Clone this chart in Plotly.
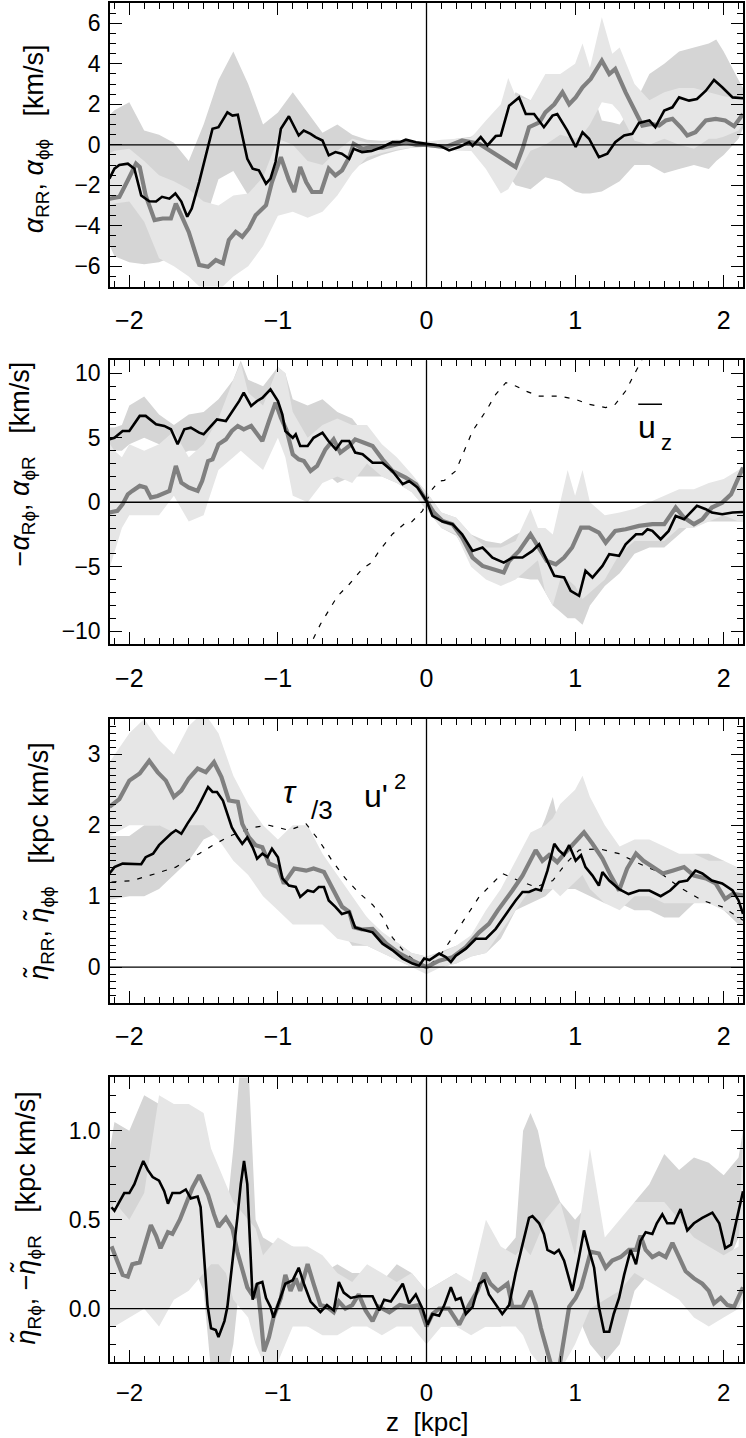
import plotly.graph_objects as go

# ---------------- data ----------------
# Panel 1: alpha_RR (black), alpha_phiphi (gray)
p1_black = [(-2.134,-1.67),(-2.10,-1.18),(-2.067,-1.0),(-2.01,-0.93),(-1.966,-1.18),(-1.92,-2.5),(-1.866,-2.79),(-1.82,-2.8),(-1.78,-2.57),(-1.73,-2.66),(-1.69,-2.4),(-1.65,-2.8),(-1.61,-3.55),(-1.58,-3.15),(-1.53,-1.84),(-1.47,0.0),(-1.44,0.79),(-1.40,0.87),(-1.38,1.11),(-1.34,1.6),(-1.306,1.44),(-1.27,1.48),(-1.24,0.46),(-1.206,-0.69),(-1.17,-1.18),(-1.128,-1.26),(-1.08,-1.92),(-1.05,-1.67),(-1.016,-0.85),(-0.98,0.79),(-0.926,1.41),(-0.88,0.79),(-0.86,0.46),(-0.826,0.70),(-0.78,0.54),(-0.747,0.38),(-0.70,0.21),(-0.658,-0.52),(-0.613,-0.36),(-0.57,-0.44),(-0.52,-0.69),(-0.49,-0.2),(-0.434,-0.36),(-0.37,-0.3),(-0.296,-0.11),(-0.229,0.13),(-0.18,0.13),(-0.139,0.25),(-0.07,0.13),(0.0,0.05),(0.085,-0.03),(0.152,-0.28),(0.22,-0.11),(0.287,0.13),(0.31,-0.05),(0.365,0.38),(0.41,-0.03),(0.466,0.43),(0.50,0.46),(0.556,1.93),(0.623,2.34),(0.668,1.52),(0.724,1.52),(0.79,0.87),(0.848,1.44),(0.88,1.52),(0.948,0.70),(1.004,-0.11),(1.05,0.62),(1.094,0.30),(1.16,-0.61),(1.217,-0.44),(1.27,0.13),(1.33,0.46),(1.385,0.54),(1.43,1.08),(1.50,1.20),(1.54,0.87),(1.60,1.69),(1.655,1.85),(1.70,2.34),(1.767,2.18),(1.82,2.26),(1.88,2.67),(1.935,3.2),(1.99,2.84),(2.06,2.34),(2.13,2.3)]
p1_gray = [(-2.134,-2.66),(-2.067,-2.57),(-2.01,-1.75),(-1.955,-0.93),(-1.93,-1.1),(-1.89,-2.5),(-1.83,-3.72),(-1.776,-3.64),(-1.72,-3.64),(-1.687,-2.9),(-1.65,-3.48),(-1.60,-4.3),(-1.53,-5.93),(-1.47,-6.02),(-1.418,-5.69),(-1.37,-5.85),(-1.33,-4.7),(-1.284,-4.3),(-1.24,-4.54),(-1.195,-4.13),(-1.15,-3.48),(-1.08,-2.98),(-1.04,-1.84),(-0.98,-0.61),(-0.926,-1.75),(-0.89,-2.33),(-0.85,-1.10),(-0.81,-1.84),(-0.77,-2.33),(-0.71,-2.33),(-0.658,-1.18),(-0.613,-1.51),(-0.568,-1.26),(-0.52,-0.61),(-0.49,0.05),(-0.43,-0.2),(-0.37,-0.11),(-0.30,-0.15),(-0.23,-0.03),(-0.14,0.13),(-0.07,0.0),(0.0,0.0),(0.13,-0.11),(0.24,0.21),(0.354,0.05),(0.466,-0.44),(0.53,-0.77),(0.60,-1.1),(0.646,-0.2),(0.69,0.87),(0.76,1.11),(0.80,1.6),(0.86,2.0),(0.915,2.59),(0.96,2.0),(1.004,2.34),(1.05,2.84),(1.105,3.25),(1.18,4.15),(1.23,3.49),(1.27,3.74),(1.34,2.59),(1.41,1.52),(1.453,0.95),(1.51,1.03),(1.565,0.95),(1.61,1.2),(1.655,1.28),(1.71,0.87),(1.755,0.46),(1.81,0.62),(1.88,1.2),(1.946,1.28),(2.01,1.2),(2.07,0.92),(2.13,1.52)]
# bands: (z, dark_lo, dark_hi, light_lo, light_hi)
p1_bands = [(-2.13,-5.0,1.5,-3.0,-0.4),(-2.1,-5.5,1.7,-2.9,-0.3),(-2.0,-5.8,2.1,-2.8,-0.2),(-1.9,-5.9,0.7,-3.8,-0.8),(-1.8,-5.8,0.5,-5.6,-1.5),(-1.7,-5.5,0.1,-6.0,-1.8),(-1.6,-5.5,-0.8,-6.5,-2.2),(-1.5,-4.0,1.0,-7.2,-2.8),(-1.4,-1.7,3.2,-7.2,-3.0),(-1.3,-1.3,4.6,-6.5,-2.5),(-1.2,-2.5,3.0,-6.0,-2.4),(-1.1,-3.0,1.0,-5.0,-1.6),(-1.0,-3.2,1.6,-3.5,0.3),(-0.9,-1.5,2.6,-3.3,0.0),(-0.8,-1.5,1.6,-3.6,-0.8),(-0.7,-1.2,0.6,-3.3,-1.0),(-0.6,-1.5,1.0,-2.5,-0.3),(-0.5,-1.2,0.5,-1.4,0.3),(-0.4,-0.8,0.25,-0.6,0.1),(-0.3,-0.5,0.2,-0.4,0.1),(-0.2,-0.3,0.25,-0.25,0.25),(-0.1,-0.15,0.2,-0.15,0.2),(0.0,-0.1,0.15,-0.1,0.15),(0.1,-0.2,0.15,-0.2,0.25),(0.2,-0.25,0.3,-0.3,0.3),(0.3,-0.3,0.4,-0.3,0.35),(0.4,-0.3,0.9,-1.2,1.2),(0.5,-0.9,1.6,-2.4,2.0),(0.55,-1.5,2.0,-2.2,3.3),(0.6,-2.0,2.6,-1.6,2.4),(0.7,-2.2,2.2,-0.3,2.2),(0.8,-1.6,2.0,0.0,3.5),(0.9,-1.8,1.8,0.5,3.5),(1.0,-2.3,1.2,0.3,4.0),(1.05,-2.4,2.5,0.5,5.0),(1.1,-2.4,3.0,1.0,3.8),(1.18,-2.3,1.2,2.1,6.3),(1.25,-2.0,1.1,2.0,4.5),(1.3,-1.8,1.0,1.6,4.8),(1.4,-1.0,2.0,0.2,3.0),(1.5,-1.0,3.5,0.0,2.2),(1.6,-1.4,4.0,0.3,2.6),(1.7,-1.2,4.6,0.0,2.8),(1.8,-1.0,4.8,-0.2,2.8),(1.9,-1.2,5.0,0.3,2.6),(1.95,-0.8,5.2,0.3,2.5),(2.0,-0.5,4.6,0.4,2.4),(2.1,0.3,3.2,0.7,2.3),(2.13,0.8,2.8,1.0,2.2)]

# Panel 2: -alpha_Rphi (black), alpha_phiR (gray), mean u_z (dashed)
p2_black = [(-2.134,4.88),(-2.10,5.0),(-2.045,5.53),(-2.0,5.53),(-1.93,6.7),(-1.89,6.7),(-1.82,6.05),(-1.765,5.92),(-1.72,5.66),(-1.675,4.5),(-1.63,5.66),(-1.586,5.79),(-1.53,5.4),(-1.50,5.27),(-1.46,5.79),(-1.41,6.43),(-1.35,6.3),(-1.31,6.95),(-1.26,7.86),(-1.23,8.5),(-1.18,7.47),(-1.14,7.86),(-1.105,8.1),(-1.05,8.76),(-1.0,7.86),(-0.97,6.8),(-0.95,5.53),(-0.90,5.0),(-0.88,5.27),(-0.85,4.37),(-0.80,4.37),(-0.76,5.0),(-0.70,5.4),(-0.66,4.75),(-0.61,4.1),(-0.57,4.75),(-0.52,4.75),(-0.48,3.85),(-0.43,3.72),(-0.363,3.07),(-0.296,3.07),(-0.23,2.43),(-0.16,1.4),(-0.117,1.65),(-0.06,1.14),(0.0,0.1),(0.04,-1.06),(0.108,-1.5),(0.175,-1.7),(0.24,-2.48),(0.31,-3.77),(0.377,-3.51),(0.444,-4.29),(0.52,-4.68),(0.58,-4.29),(0.646,-4.29),(0.713,-3.77),(0.758,-3.26),(0.80,-4.29),(0.86,-5.71),(0.926,-5.84),(0.97,-6.87),(1.027,-7.26),(1.07,-5.32),(1.117,-5.84),(1.184,-4.94),(1.23,-4.03),(1.296,-4.16),(1.34,-3.26),(1.41,-2.48),(1.453,-2.48),(1.487,-2.09),(1.52,-2.22),(1.576,-2.87),(1.63,-2.22),(1.677,-1.06),(1.733,-1.32),(1.82,-0.28),(1.88,-0.54),(1.92,-0.8),(1.99,-0.93),(2.06,-0.8),(2.13,-0.75)]
p2_gray = [(-2.134,-0.8),(-2.08,-0.67),(-2.045,-0.15),(-2.01,0.62),(-1.98,0.88),(-1.93,1.27),(-1.89,1.14),(-1.855,0.36),(-1.81,0.49),(-1.776,0.62),(-1.73,0.88),(-1.687,2.82),(-1.65,1.52),(-1.60,1.14),(-1.54,0.88),(-1.51,1.65),(-1.47,3.2),(-1.44,3.33),(-1.40,4.5),(-1.35,4.88),(-1.31,5.53),(-1.27,5.92),(-1.23,5.66),(-1.18,5.92),(-1.14,5.27),(-1.105,4.75),(-1.06,6.3),(-1.016,7.73),(-0.98,6.56),(-0.94,5.53),(-0.90,3.72),(-0.86,3.33),(-0.825,3.2),(-0.78,2.43),(-0.736,2.82),(-0.68,4.1),(-0.625,4.88),(-0.58,3.85),(-0.52,4.37),(-0.48,4.88),(-0.42,4.62),(-0.363,4.37),(-0.296,3.33),(-0.23,2.43),(-0.14,1.91),(-0.07,1.4),(0.0,0.1),(0.05,-0.8),(0.108,-1.45),(0.175,-1.7),(0.24,-2.74),(0.31,-4.29),(0.377,-4.94),(0.444,-5.19),(0.52,-5.45),(0.556,-4.55),(0.623,-3.77),(0.70,-2.48),(0.758,-3.51),(0.81,-4.55),(0.87,-4.81),(0.926,-4.29),(0.98,-3.51),(1.04,-1.96),(1.094,-1.96),(1.16,-2.35),(1.206,-3.13),(1.27,-2.22),(1.34,-2.09),(1.43,-1.83),(1.52,-1.7),(1.60,-1.7),(1.677,-0.41),(1.733,-1.19),(1.80,-1.7),(1.856,-1.32),(1.92,-0.41),(1.99,-0.03),(2.05,0.62),(2.13,2.69)]
p2_uz = [(-0.80,-11.5),(-0.714,-9.46),(-0.60,-7.3),(-0.52,-6.36),(-0.434,-5.19),(-0.37,-4.68),(-0.318,-3.77),(-0.23,-2.48),(-0.14,-1.58),(-0.105,-1.58),(-0.027,-0.67),(0.03,0.88),(0.085,1.65),(0.12,1.7),(0.197,2.43),(0.31,5.53),(0.40,7.08),(0.466,8.37),(0.534,9.28),(0.60,9.02),(0.668,8.63),(0.758,8.24),(0.89,8.24),(1.004,7.98),(1.094,7.6),(1.206,7.34),(1.27,7.6),(1.34,8.63),(1.41,10.18),(1.47,11.5)]
p2_bands = [(-2.13,3.8,5.8,-5.0,4.5),(-2.1,4.0,5.8,-4.0,4.0),(-2.05,4.0,6.0,-2.0,3.5),(-2.0,4.5,7.5,-1.0,4.5),(-1.9,5.0,8.2,-1.0,4.0),(-1.8,4.5,6.8,-1.0,4.5),(-1.7,3.5,6.0,0.5,5.5),(-1.6,4.0,6.8,-1.5,3.5),(-1.5,4.0,7.0,-1.0,4.5),(-1.4,5.0,8.0,2.5,6.5),(-1.3,5.5,9.5,3.5,9.5),(-1.25,6.5,11.0,4.0,10.8),(-1.2,6.0,9.5,3.5,8.5),(-1.1,6.5,9.0,2.5,7.5),(-1.0,6.5,10.5,5.0,10.5),(-0.95,5.0,10.0,3.5,10.0),(-0.9,3.0,8.0,0.5,7.0),(-0.8,2.0,7.5,0.0,5.0),(-0.7,2.5,8.0,1.5,6.0),(-0.6,1.5,7.0,2.0,6.5),(-0.5,2.0,6.5,1.5,6.0),(-0.4,2.0,5.0,3.0,6.0),(-0.3,2.0,4.0,2.0,4.5),(-0.2,1.5,3.0,1.5,3.5),(-0.1,0.8,2.0,0.8,2.2),(0.0,-0.5,0.8,-0.6,0.8),(0.1,-2.0,-0.8,-2.0,-0.8),(0.2,-2.6,-1.2,-2.5,-1.2),(0.3,-4.5,-2.5,-5.0,-2.5),(0.4,-5.5,-3.0,-6.0,-3.5),(0.5,-6.0,-3.2,-6.5,-3.5),(0.6,-5.8,-2.5,-6.0,-3.0),(0.7,-6.0,-2.0,-5.0,-0.5),(0.75,-6.0,-2.5,-4.5,-2.0),(0.8,-7.0,-3.0,-7.0,-2.0),(0.85,-8.0,-3.5,-8.0,-2.5),(0.9,-8.5,-4.0,-6.0,0.0),(0.95,-9.0,-4.2,-6.0,2.5),(1.0,-9.0,-4.5,-6.5,0.5),(1.05,-9.5,-3.5,-7.5,2.5),(1.1,-8.0,-4.0,-7.0,0.0),(1.2,-6.5,-2.5,-6.0,-1.0),(1.3,-5.5,-2.0,-4.0,-0.8),(1.4,-4.0,-1.5,-3.0,-0.5),(1.5,-3.5,-0.5,-3.0,0.0),(1.6,-3.5,0.0,-3.0,0.5),(1.7,-2.5,0.5,-2.0,1.0),(1.8,-1.5,0.8,-2.0,1.0),(1.9,-1.5,0.5,-1.5,1.5),(2.0,-1.5,0.5,-1.0,1.8),(2.1,-1.5,0.5,-1.5,2.5),(2.13,-1.5,0.5,-1.5,2.8)]

# Panel 3: eta_RR (black), eta_phiphi (gray), tau/3 u'^2 (dashed)
p3_black = [(-2.134,1.32),(-2.10,1.41),(-2.045,1.46),(-2.0,1.46),(-1.92,1.45),(-1.89,1.55),(-1.84,1.60),(-1.80,1.72),(-1.754,1.81),(-1.72,1.88),(-1.687,1.93),(-1.65,1.88),(-1.61,2.02),(-1.55,2.21),(-1.52,2.33),(-1.47,2.54),(-1.44,2.47),(-1.41,2.47),(-1.37,2.35),(-1.34,2.16),(-1.31,1.97),(-1.27,1.83),(-1.24,1.74),(-1.206,1.83),(-1.17,1.69),(-1.14,1.53),(-1.105,1.60),(-1.07,1.55),(-1.04,1.67),(-1.0,1.55),(-0.97,1.25),(-0.926,1.15),(-0.88,1.13),(-0.85,0.99),(-0.80,1.08),(-0.76,1.06),(-0.725,1.13),(-0.69,1.13),(-0.658,0.94),(-0.613,0.85),(-0.57,0.75),(-0.52,0.78),(-0.48,0.56),(-0.434,0.53),(-0.363,0.49),(-0.296,0.33),(-0.23,0.24),(-0.16,0.12),(-0.094,0.05),(-0.05,0.02),(-0.016,0.12),(0.02,0.10),(0.085,0.19),(0.13,0.14),(0.164,0.07),(0.197,0.16),(0.265,0.26),(0.332,0.40),(0.40,0.40),(0.466,0.54),(0.534,0.75),(0.60,0.94),(0.646,1.06),(0.69,1.06),(0.735,1.10),(0.77,1.08),(0.814,1.36),(0.86,1.74),(0.89,1.65),(0.926,1.58),(0.96,1.72),(1.004,1.50),(1.04,1.58),(1.07,1.41),(1.117,1.29),(1.16,1.15),(1.184,1.34),(1.23,1.22),(1.296,1.10),(1.36,1.03),(1.43,1.08),(1.50,1.08),(1.576,1.0),(1.64,1.08),(1.70,1.20),(1.755,1.22),(1.81,1.36),(1.856,1.32),(1.92,1.22),(1.99,1.18),(2.06,1.08),(2.10,0.94),(2.13,0.75)]
p3_gray = [(-2.134,2.26),(-2.067,2.37),(-2.0,2.63),(-1.93,2.73),(-1.866,2.91),(-1.81,2.75),(-1.754,2.63),(-1.70,2.40),(-1.65,2.49),(-1.60,2.66),(-1.54,2.80),(-1.485,2.75),(-1.43,2.89),(-1.38,2.68),(-1.33,2.35),(-1.27,2.33),(-1.24,2.02),(-1.195,1.83),(-1.15,1.72),(-1.105,1.69),(-1.06,1.46),(-1.0,1.41),(-0.96,1.18),(-0.89,1.39),(-0.81,1.36),(-0.76,1.39),(-0.69,1.34),(-0.635,1.13),(-0.568,0.85),(-0.52,0.78),(-0.49,0.56),(-0.434,0.53),(-0.363,0.54),(-0.27,0.33),(-0.18,0.19),(-0.094,0.09),(0.0,0.0),(0.085,0.09),(0.175,0.14),(0.265,0.28),(0.354,0.49),(0.42,0.61),(0.48,0.80),(0.578,1.08),(0.646,1.29),(0.735,1.65),(0.78,1.50),(0.825,1.58),(0.88,1.48),(0.937,1.62),(0.99,1.74),(1.06,1.90),(1.117,1.74),(1.184,1.53),(1.24,1.29),(1.296,1.08),(1.35,1.39),(1.41,1.60),(1.46,1.50),(1.52,1.41),(1.59,1.32),(1.655,1.36),(1.733,1.41),(1.80,1.29),(1.88,1.25),(1.946,1.18),(2.01,0.96),(2.06,1.03),(2.13,1.01)]
p3_tau = [(-2.12,1.20),(-1.98,1.22),(-1.82,1.32),(-1.687,1.41),(-1.53,1.60),(-1.42,1.74),(-1.31,1.86),(-1.17,1.97),(-1.06,2.0),(-0.926,1.93),(-0.81,2.02),(-0.725,1.79),(-0.635,1.5),(-0.546,1.25),(-0.456,1.05),(-0.363,0.88),(-0.296,0.71),(-0.23,0.42),(-0.14,0.19),(-0.05,0.05),(0.0,0.0),(0.085,0.14),(0.175,0.42),(0.265,0.71),(0.354,0.99),(0.42,1.13),(0.51,1.32),(0.62,1.22),(0.735,1.13),(0.85,1.22),(0.937,1.46),(1.027,1.65),(1.16,1.67),(1.296,1.60),(1.43,1.46),(1.565,1.34),(1.70,1.13),(1.856,0.94),(1.99,0.85),(2.13,0.66)]
p3_bands = [(-2.13,0.95,1.85,1.85,2.9),(-2.0,1.0,1.85,2.0,3.3),(-1.9,1.0,2.0,2.0,3.5),(-1.8,1.1,2.0,2.0,3.2),(-1.7,1.3,2.1,1.9,3.0),(-1.6,1.5,2.2,2.0,3.4),(-1.5,1.8,2.4,2.0,3.6),(-1.4,1.9,2.3,1.8,3.3),(-1.3,1.6,2.0,1.5,2.7),(-1.2,1.4,1.9,1.3,2.3),(-1.1,1.2,1.8,1.0,2.0),(-1.0,1.0,1.7,0.8,1.8),(-0.9,0.8,1.4,0.6,2.0),(-0.8,0.7,1.3,0.6,2.0),(-0.7,0.7,1.3,0.6,1.6),(-0.6,0.6,1.1,0.4,1.3),(-0.5,0.3,0.9,0.35,1.0),(-0.4,0.3,0.7,0.3,0.7),(-0.3,0.2,0.45,0.2,0.5),(-0.2,0.1,0.35,0.1,0.35),(-0.1,0.0,0.2,0.0,0.2),(0.0,-0.05,0.15,-0.1,0.15),(0.1,0.0,0.22,0.0,0.2),(0.2,0.05,0.3,0.05,0.3),(0.3,0.15,0.4,0.15,0.45),(0.4,0.2,0.6,0.2,0.8),(0.5,0.4,0.9,0.5,1.1),(0.6,0.8,1.3,0.8,1.5),(0.7,0.9,1.6,1.1,1.9),(0.8,1.0,2.1,1.1,2.0),(0.85,1.1,2.4,1.1,2.1),(0.9,1.1,1.9,1.0,2.3),(1.0,1.1,1.8,1.2,2.5),(1.05,1.05,1.7,1.3,2.7),(1.1,1.0,1.6,1.1,2.4),(1.2,0.9,1.5,0.9,2.0),(1.3,0.9,1.4,0.8,1.7),(1.4,0.8,1.5,1.0,1.8),(1.5,0.8,1.5,1.0,1.8),(1.6,0.7,1.4,0.9,1.7),(1.7,0.7,1.5,0.9,1.6),(1.8,0.9,1.6,0.9,1.6),(1.9,1.0,1.6,0.9,1.5),(2.0,0.8,1.5,0.8,1.5),(2.1,0.6,1.3,0.7,1.4),(2.13,0.6,1.2,0.6,1.4)]

# Panel 4: eta_Rphi (black), -eta_phiR (gray)
p4_black = [(-2.12,0.57),(-2.10,0.55),(-2.067,0.60),(-2.034,0.65),(-2.0,0.65),(-1.966,0.70),(-1.93,0.78),(-1.906,0.83),(-1.876,0.78),(-1.843,0.74),(-1.80,0.72),(-1.765,0.66),(-1.74,0.59),(-1.71,0.65),(-1.66,0.65),(-1.62,0.67),(-1.586,0.62),(-1.54,0.63),(-1.52,0.57),(-1.50,0.33),(-1.474,0.02),(-1.45,-0.11),(-1.418,-0.12),(-1.40,-0.16),(-1.36,-0.07),(-1.34,0.01),(-1.306,0.25),(-1.273,0.51),(-1.25,0.70),(-1.228,0.83),(-1.206,0.70),(-1.183,0.25),(-1.17,0.05),(-1.14,0.14),(-1.105,0.15),(-1.08,0.06),(-1.05,0.01),(-1.03,-0.05),(-0.99,0.04),(-0.95,0.14),(-0.90,0.16),(-0.86,0.23),(-0.825,0.14),(-0.78,0.04),(-0.747,0.01),(-0.714,-0.02),(-0.67,0.02),(-0.624,-0.01),(-0.59,0.15),(-0.557,0.09),(-0.51,0.06),(-0.456,0.07),(-0.41,0.07),(-0.363,0.07),(-0.318,-0.01),(-0.285,0.05),(-0.24,0.04),(-0.16,0.14),(-0.117,0.03),(-0.072,0.08),(-0.027,0.0),(0.007,-0.09),(0.04,-0.03),(0.085,-0.04),(0.12,0.02),(0.164,0.12),(0.197,0.05),(0.23,0.06),(0.265,-0.03),(0.31,0.01),(0.354,0.14),(0.39,0.16),(0.42,0.08),(0.466,0.02),(0.51,-0.03),(0.556,0.02),(0.60,0.20),(0.646,0.36),(0.69,0.51),(0.713,0.52),(0.758,0.48),(0.79,0.42),(0.814,0.33),(0.86,0.31),(0.89,0.33),(0.926,0.27),(0.96,0.16),(0.982,0.10),(1.027,0.29),(1.06,0.44),(1.094,0.33),(1.128,0.23),(1.16,0.01),(1.195,-0.13),(1.23,-0.13),(1.26,-0.03),(1.296,0.06),(1.33,0.19),(1.374,0.33),(1.41,0.25),(1.44,0.38),(1.475,0.43),(1.52,0.42),(1.55,0.48),(1.587,0.53),(1.62,0.48),(1.666,0.48),(1.71,0.56),(1.755,0.44),(1.80,0.48),(1.856,0.51),(1.924,0.54),(1.97,0.48),(2.01,0.34),(2.05,0.36),(2.09,0.51),(2.13,0.66)]
p4_gray = [(-2.12,0.35),(-2.09,0.29),(-2.045,0.19),(-2.01,0.18),(-1.98,0.25),(-1.93,0.26),(-1.89,0.37),(-1.855,0.47),(-1.82,0.41),(-1.79,0.34),(-1.74,0.43),(-1.71,0.42),(-1.66,0.50),(-1.62,0.58),(-1.575,0.68),(-1.53,0.75),(-1.47,0.64),(-1.43,0.53),(-1.40,0.46),(-1.35,0.51),(-1.306,0.45),(-1.273,0.32),(-1.24,0.23),(-1.206,0.12),(-1.16,0.06),(-1.14,0.14),(-1.117,-0.03),(-1.094,-0.24),(-1.06,-0.16),(-1.03,-0.05),(-0.98,0.06),(-0.95,0.19),(-0.915,0.10),(-0.88,0.17),(-0.85,0.10),(-0.80,0.25),(-0.76,0.14),(-0.714,0.02),(-0.67,0.01),(-0.624,-0.02),(-0.59,0.04),(-0.546,0.0),(-0.50,0.02),(-0.456,0.08),(-0.41,-0.01),(-0.363,-0.07),(-0.318,0.01),(-0.25,-0.02),(-0.18,0.02),(-0.117,0.01),(-0.05,0.02),(0.0,-0.10),(0.04,-0.03),(0.085,0.0),(0.15,0.0),(0.22,-0.09),(0.287,0.02),(0.343,0.10),(0.39,0.20),(0.43,0.14),(0.48,0.10),(0.545,0.14),(0.578,0.01),(0.646,0.01),(0.70,0.10),(0.735,0.02),(0.77,-0.11),(0.814,-0.24),(0.85,-0.35),(0.89,-0.35),(0.926,-0.16),(0.96,0.01),(1.004,0.06),(1.04,0.12),(1.07,0.21),(1.105,0.32),(1.16,0.31),(1.206,0.23),(1.25,0.27),(1.307,0.29),(1.363,0.33),(1.41,0.33),(1.44,0.41),(1.475,0.33),(1.52,0.29),(1.565,0.31),(1.61,0.29),(1.655,0.37),(1.70,0.29),(1.744,0.21),(1.80,0.17),(1.856,0.14),(1.90,0.10),(1.935,0.03),(1.98,0.06),(2.025,0.02),(2.07,0.01),(2.13,0.12)]
p4_bands = [(-2.13,0.3,0.9,-0.1,0.55),(-2.1,0.2,1.05,-0.1,0.6),(-2.0,0.1,1.0,-0.05,0.5),(-1.9,0.3,1.2,0.0,0.65),(-1.8,0.35,1.15,-0.1,1.2),(-1.7,0.3,1.0,0.05,1.15),(-1.6,0.3,1.0,0.1,1.15),(-1.5,0.1,0.8,0.2,1.1),(-1.45,-0.35,0.5,0.25,0.9),(-1.4,-0.4,0.4,0.25,0.8),(-1.35,-0.4,0.5,0.2,0.7),(-1.3,-0.2,0.9,0.05,0.6),(-1.25,0.2,1.4,0.0,0.55),(-1.2,0.3,1.4,-0.05,0.5),(-1.15,-0.1,0.5,-0.2,0.45),(-1.1,-0.1,0.4,-0.3,0.3),(-1.0,-0.2,0.35,-0.3,0.4),(-0.9,-0.05,0.35,-0.1,0.35),(-0.8,-0.1,0.3,-0.1,0.35),(-0.7,-0.1,0.2,-0.15,0.3),(-0.6,0.0,0.25,-0.15,0.2),(-0.5,-0.05,0.2,-0.1,0.15),(-0.4,-0.05,0.2,-0.1,0.25),(-0.3,-0.1,0.15,-0.15,0.2),(-0.2,0.0,0.25,-0.1,0.15),(-0.1,-0.05,0.2,-0.1,0.2),(0.0,-0.15,0.1,-0.2,0.1),(0.1,-0.1,0.15,-0.1,0.15),(0.2,-0.1,0.2,-0.1,0.2),(0.3,-0.1,0.1,-0.15,0.15),(0.4,-0.1,0.3,-0.1,0.5),(0.5,-0.1,0.3,-0.1,0.35),(0.6,-0.05,0.4,-0.1,0.3),(0.65,0.0,1.0,-0.15,0.35),(0.7,0.1,1.1,-0.25,0.3),(0.75,0.1,1.0,-0.3,0.4),(0.8,0.05,0.8,-0.35,0.5),(0.9,-0.05,0.6,-0.35,0.6),(1.0,0.0,0.5,-0.2,0.3),(1.1,-0.2,0.6,0.0,0.9),(1.2,-0.3,0.3,0.05,0.4),(1.3,-0.2,0.4,0.1,0.5),(1.4,0.1,0.6,0.2,0.6),(1.5,0.2,0.7,0.15,0.6),(1.6,0.3,0.87,0.1,0.6),(1.7,0.35,0.78,0.05,0.5),(1.8,0.35,0.85,-0.05,0.4),(1.9,0.3,0.82,-0.1,0.35),(2.0,0.2,0.75,-0.05,0.3),(2.1,0.4,0.85,0.0,0.35),(2.13,0.4,1.0,0.05,1.0)]

# axis ranges / ticks
z_range = [-2.13, 2.13]
y_ranges = [[-7, 7], [-11, 11], [-0.5, 3.5], [-0.3, 1.3]]
y_dticks = [2, 5, 1, 0.5]
y_minor = [0.5, 1, 0.1, 0.1]
y_titles = ["<i>α</i><sub>RR</sub>, <i>α</i><sub>ϕϕ</sub>\u00a0\u00a0\u00a0[km/s]",
            "−<i>α</i><sub>Rϕ</sub>, <i>α</i><sub>ϕR</sub>\u00a0\u00a0\u00a0[km/s]",
            "<i>η\u0303</i><sub>RR</sub>, <i>η\u0303</i><sub>ϕϕ</sub>\u00a0\u00a0\u00a0[kpc km/s]",
            "<i>η\u0303</i><sub>Rϕ</sub>, −<i>η\u0303</i><sub>ϕR</sub>\u00a0\u00a0\u00a0[kpc km/s]"]

# ---------------- figure ----------------
W, H = 746, 1438
ML, MR, MT, MB = 110, 2, 1, 76
PH = H - MT - MB
panel_px = [(1, 285), (359, 643), (718, 1002), (1077, 1362)]
DARK, LIGHT, GRAY = "#d5d5d5", "#e6e6e6", "#808080"
FONT = "Liberation Sans"

fig = go.Figure()
panels = [
    (p1_black, p1_gray, p1_bands, None),
    (p2_black, p2_gray, p2_bands, p2_uz),
    (p3_black, p3_gray, p3_bands, p3_tau),
    (p4_black, p4_gray, p4_bands, None),
]

def xy(pairs):
    return [p[0] for p in pairs], [p[1] for p in pairs]

for i, (blk, gry, bands, dash) in enumerate(panels, start=1):
    xa = "x" if i == 1 else f"x{i}"
    ya = "y" if i == 1 else f"y{i}"
    zb = [b[0] for b in bands]
    dlo = [b[1] for b in bands]; dhi = [b[2] for b in bands]
    llo = [b[3] for b in bands]; lhi = [b[4] for b in bands]
    fig.add_trace(go.Scatter(x=zb + zb[::-1], y=dhi + dlo[::-1], fill="toself",
                             fillcolor=DARK, mode="lines", line=dict(width=0, color=DARK),
                             hoverinfo="skip", showlegend=False, xaxis=xa, yaxis=ya))
    fig.add_trace(go.Scatter(x=zb + zb[::-1], y=lhi + llo[::-1], fill="toself",
                             fillcolor=LIGHT, mode="lines", line=dict(width=0, color=LIGHT),
                             hoverinfo="skip", showlegend=False, xaxis=xa, yaxis=ya))
    if dash is not None:
        dx, dy = xy(dash)
        fig.add_trace(go.Scatter(x=dx, y=dy, mode="lines",
                                 line=dict(color="black", width=1.2, dash="5px,8px"),
                                 showlegend=False, xaxis=xa, yaxis=ya))
    gx, gy = xy(gry)
    fig.add_trace(go.Scatter(x=gx, y=gy, mode="lines", line=dict(color=GRAY, width=4.2),
                             showlegend=False, xaxis=xa, yaxis=ya))
    bx, by = xy(blk)
    fig.add_trace(go.Scatter(x=bx, y=by, mode="lines", line=dict(color="black", width=2.6),
                             showlegend=False, xaxis=xa, yaxis=ya))

common = dict(showline=True, linecolor="black", linewidth=1.5, mirror="allticks",
              ticks="inside", ticklen=12, tickwidth=1.2, tickcolor="black",
              showgrid=False, zeroline=False, layer="above traces",
              minor=dict(ticks="inside", ticklen=6, tickwidth=1, tickcolor="black", showgrid=False))

layout = dict(width=W, height=H, margin=dict(l=ML, r=MR, t=MT, b=MB),
              paper_bgcolor="white", plot_bgcolor="white", showlegend=False,
              font=dict(family=FONT, color="black"))
shapes = []
annotations = []
for i in range(1, 5):
    top, bot = panel_px[i - 1]
    d0 = (H - MB - bot) / PH
    d1 = (H - MB - top) / PH
    sx = "" if i == 1 else str(i)
    xa = dict(common, range=z_range, dtick=1, tick0=0, anchor=f"y{sx}",
              tickfont=dict(size=25 if i < 4 else 24, family=FONT),
              ticklabelstandoff=11 if i < 4 else 8)
    xa["minor"] = dict(common["minor"], dtick=0.1, tick0=0)
    ya = dict(common, range=y_ranges[i - 1], dtick=y_dticks[i - 1], tick0=0,
              domain=[d0, d1], anchor=f"x{sx}", tickfont=dict(size=23, family=FONT),
              ticklabelstandoff=3)
    ya["minor"] = dict(common["minor"], dtick=y_minor[i - 1], tick0=0)
    if i == 4:
        ya["tickformat"] = ".1f"
    layout[f"xaxis{sx}"] = xa
    layout[f"yaxis{sx}"] = ya
    shapes.append(dict(type="line", xref=f"x{sx} domain", x0=0, x1=1, yref=f"y{sx}", y0=0, y1=0,
                       line=dict(color="black", width=1.3), layer="above"))
    shapes.append(dict(type="line", xref=f"x{sx}", x0=0, x1=0, yref=f"y{sx} domain", y0=0, y1=1,
                       line=dict(color="black", width=1.3), layer="above"))

# y titles
title_x_px = [36, 22, 41, 27]
title_y_frac = [0.52, 0.634, 0.5, 0.505]
for i in range(1, 5):
    sx = "" if i == 1 else str(i)
    annotations.append(dict(text=y_titles[i - 1], textangle=-90, showarrow=False,
                            xref="paper", x=(title_x_px[i - 1] - ML) / (W - ML - MR),
                            yref=f"y{sx} domain", y=title_y_frac[i - 1],
                            xanchor="center", yanchor="middle",
                            font=dict(size=27, family=FONT, color="black")))

# x title (bottom of text box at the bottom of the page)
annotations.append(dict(text="z\u00a0\u00a0[kpc]", showarrow=False, xref="paper",
                        x=(427 - ML) / (W - ML - MR), yref="paper", y=(H - MB - 1438) / PH,
                        xanchor="center", yanchor="bottom", borderpad=0,
                        font=dict(size=26, family=FONT, color="black")))

def ann(text, xref, yref, x, y, size, xanchor="center"):
    annotations.append(dict(text=text, showarrow=False, xref=xref, yref=yref, x=x, y=y,
                            xanchor=xanchor, yanchor="middle",
                            font=dict(size=size, family=FONT, color="black")))

# mean u_z label (panel 2)
ann("u", "x2", "y2", 1.411, 5.84, 32, "left")
ann("z", "x2", "y2", 1.566, 4.67, 22, "left")
shapes.append(dict(type="line", xref="x2", yref="y2", x0=1.425, x1=1.585, y0=7.6, y1=7.6,
                   line=dict(color="black", width=1.5)))
# tau/3 u'^2 label (panel 3)
ann("<i>τ</i>", "x3", "y3", -0.921, 2.47, 32)
ann("/3", "x3", "y3", -0.706, 2.22, 26)
ann("u'", "x3", "y3", -0.437, 2.41, 32, "left")
ann("2", "x3", "y3", -0.181, 2.62, 22)

layout["shapes"] = shapes
layout["annotations"] = annotations
fig.update_layout(**layout)
# remove the browser's default 8px page margin so the figure fills the window exactly
fig.write_html("out.html", config={"displayModeBar": False},
               post_script="document.body.style.margin='0';")
